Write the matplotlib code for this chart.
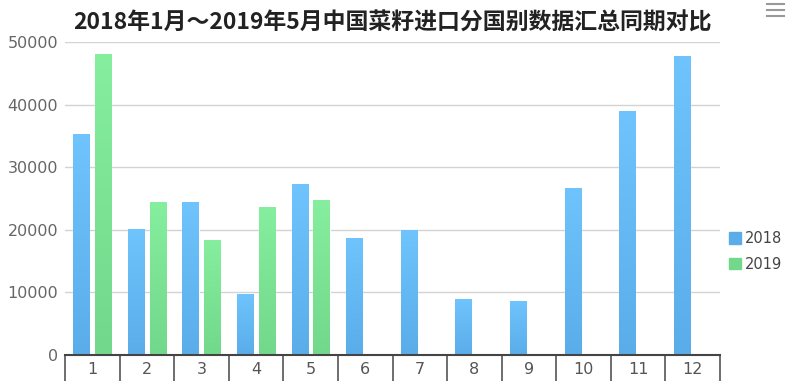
import matplotlib
matplotlib.use("Agg")
import matplotlib.pyplot as plt
import numpy as np
from matplotlib.colors import LinearSegmentedColormap
from matplotlib.lines import Line2D
from matplotlib.patches import Rectangle

plt.rcParams['font.family'] = ['DejaVu Sans']

months = ['1', '2', '3', '4', '5', '6', '7', '8', '9', '10', '11', '12']
v2018 = [35300, 20200, 24400, 9800, 27300, 18700, 19900, 8900, 8600, 26700, 39000, 47800]
v2019 = [48100, 24500, 18400, 23700, 24700]
series_names = ['2018', '2019']
title = '2018年1月～2019年5月中国菜籽进口分国别数据汇总同期对比'

blue_top, blue_bot = '#6fc4fd', '#5aade9'
green_top, green_bot = '#86ee9f', '#72d88b'

fig = plt.figure(figsize=(7.86, 3.81), dpi=100)
ax = fig.add_axes([65/786, 1-355/381, 655/786, 313/381])

x = np.arange(len(months))
off = 0.2
w = 0.295
b1 = ax.bar(x - off, v2018, width=w, color=blue_bot, edgecolor='white', linewidth=0.8, zorder=2)
b2 = ax.bar(x[:len(v2019)] + off, v2019, width=w, color=green_bot, edgecolor='white', linewidth=0.8, zorder=2)

grad = np.linspace(1, 0, 100).reshape(-1, 1)
for bars, (ct, cb) in ((b1, (blue_top, blue_bot)), (b2, (green_top, green_bot))):
    cmap = LinearSegmentedColormap.from_list('g', [cb, ct])
    for r in bars:
        x0, y0, ww, hh = r.get_x(), r.get_y(), r.get_width(), r.get_height()
        im = ax.imshow(grad, extent=[x0, x0 + ww, y0, y0 + hh], cmap=cmap,
                       aspect='auto', zorder=2.5, vmin=0, vmax=1)
        im.set_clip_path(r)

ax.set_xlim(-0.5, len(months) - 0.5)
ax.set_ylim(0, 50000)
ax.set_yticks(np.arange(0, 50001, 10000))
ax.yaxis.grid(True, color='#d3d3d3', linewidth=1, zorder=0)
ax.set_axisbelow(True)
for s in ['top', 'right', 'left']:
    ax.spines[s].set_visible(False)
ax.spines['bottom'].set_color('#444444')
ax.spines['bottom'].set_linewidth(1.5)
ax.tick_params(axis='y', length=0, labelsize=11.5, labelcolor='#666666', pad=5)

ax.set_xticks(x)
ax.set_xticklabels(months)
ax.tick_params(axis='x', which='major', length=0, labelsize=11.5, labelcolor='#555555', pad=5)
ax.set_xticks(np.arange(-0.5, len(months) + 0.5, 1), minor=True)
ax.tick_params(axis='x', which='minor', length=27, width=1.2, color='#555555', direction='out')

ax.set_title(title, fontsize=16.5, fontweight='bold', color='#222222',
             family=['Noto Sans CJK SC', 'DejaVu Sans'], pad=9)

handles = [Rectangle((0, 0), 1, 1, color=blue_bot), Rectangle((0, 0), 1, 1, color=green_bot)]
leg = fig.legend(handles, series_names, loc='center left', bbox_to_anchor=(726/786, 1-251.5/381),
                 frameon=False, fontsize=10.5, handlelength=0.8, handleheight=0.8,
                 handletextpad=0.3, labelspacing=0.75, labelcolor='#444444',
                 borderpad=0.2, borderaxespad=0)

for yy in (4, 10, 16):
    fig.add_artist(Line2D([767/786, 784/786], [1-yy/381, 1-yy/381], color='#999999', linewidth=1.5))

fig.savefig('out.png', dpi=100)
